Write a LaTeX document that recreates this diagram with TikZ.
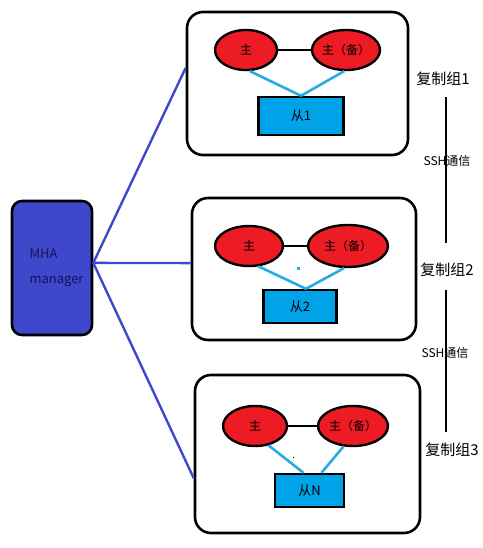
\documentclass[tikz,border=0pt]{standalone}
\usepackage{fontspec}
\setmainfont{Noto Sans CJK SC}
\usepackage{tikz}
\usetikzlibrary{shapes.geometric, arrows.meta, positioning, calc}
\definecolor{mhablue}{RGB}{63, 72, 204}
\definecolor{dbred}{RGB}{237, 28, 36}
\definecolor{slaveblue}{RGB}{0, 162, 232}
\definecolor{linkcyan}{RGB}{40, 170, 228}
\definecolor{mhatext}{RGB}{20, 20, 80}

\begin{document}
\begin{tikzpicture}[x=1pt, y=-1pt,
    group/.style={rectangle, draw, line width=2.6pt, rounded corners=16pt, inner sep=0pt},
    master/.style={ellipse, draw, line width=2.4pt, fill=dbred, inner sep=0pt, font=\fontsize{12}{12}\selectfont},
    slave/.style={rectangle, draw, line width=2.4pt, fill=slaveblue, inner sep=0pt, font=\fontsize{13}{13}\selectfont},
    mgr/.style={line width=2.4pt, mhablue},
    sync/.style={line width=2.6pt},
    repl/.style={line width=2.6pt, linkcyan},
    grplabel/.style={inner sep=0pt, font=\fontsize{15}{15}\selectfont},
    sshlabel/.style={inner sep=0pt, font=\fontsize{12}{12}\selectfont}]
    \useasboundingbox (0,0) rectangle (482,548);

    % MHA manager
    \node[rectangle, draw, line width=2.6pt, rounded corners=10pt, fill=mhablue,
          minimum width=80pt, minimum height=134pt, inner sep=0pt] (mha) at (52, 268) {};
    \node[anchor=west, align=left, text=mhatext, font=\fontsize{13}{25}\selectfont] (mhatxt) at (26, 268) {MHA\\manager};

    % Replication groups
    \node[group, minimum width=221pt, minimum height=143pt] (grp1) at (297.5, 83.5) {};
    \node[group, minimum width=224pt, minimum height=142pt] (grp2) at (304, 269) {};
    \node[group, minimum width=225pt, minimum height=158pt] (grp3) at (307.5, 454) {};

    % Group 1
    \node[master, minimum width=62pt, minimum height=40pt] (m1) at (246, 50) {主};
    \node[master, minimum width=68pt, minimum height=40pt] (b1) at (346, 50) {主（备）};
    \node[slave, minimum width=85pt, minimum height=38pt] (s1) at (301, 116) {从1};

    % Group 2
    \node[master, minimum width=68pt, minimum height=40pt] (m2) at (249, 246) {主};
    \node[master, minimum width=80pt, minimum height=42pt] (b2) at (348, 246) {主（备）};
    \node[slave, minimum width=73pt, minimum height=33pt] (s2) at (300, 306.5) {从2};

    % Group 3
    \node[master, minimum width=64pt, minimum height=40pt] (m3) at (255, 426) {主};
    \node[master, minimum width=70pt, minimum height=40pt] (b3) at (353, 426) {主（备）};
    \node[slave, minimum width=69pt, minimum height=33pt] (s3) at (309.5, 490.5) {从N};

    % Master links
    \draw[sync] (m1.east) -- (b1.west);
    \draw[sync] (m2.east) -- (b2.west);
    \draw[sync] (m3.east) -- (b3.west);

    % Replication links
    \draw[repl] (m1.-80) -- (s1.north);
    \draw[repl] (b1.-95) -- (s1.north);
    \draw[repl] (m2.-65) -- ([xshift=6pt]s2.north);
    \draw[repl] (b2.-100) -- ([xshift=6pt]s2.north);
    \draw[repl] (m3.-55) -- ([xshift=-6pt]s3.north);
    \draw[repl] (b3.-115) -- ([xshift=12pt]s3.north);
    \fill[linkcyan] (297, 267) rectangle (299.5, 269.5);
    \fill[black] (292.5, 456.5) rectangle (293.5, 457.5);

    % Manager links
    \draw[mgr] (mha.7) -- (grp1.172);
    \draw[mgr] (mha.7) -- (grp2.177);
    \draw[mgr] (mha.7) -- (grp3.192);

    % Group labels and SSH
    \node[grplabel] (lab1) at (443, 79) {复制组1};
    \node[grplabel] (lab2) at (447, 270) {复制组2};
    \node[grplabel] (lab3) at (452, 450) {复制组3};
    \coordinate (ssh1a) at (446, 97);
    \coordinate (ssh1b) at (446, 243);
    \coordinate (ssh2a) at (446, 290);
    \coordinate (ssh2b) at (446, 432);
    \draw[sync] (ssh1a) -- (ssh1b);
    \draw[sync] (ssh2a) -- (ssh2b);
    \node[sshlabel] (ssh1) at (447, 161) {SSH通信};
    \node[sshlabel] (ssh2) at (445, 353) {SSH通信};
\end{tikzpicture}
\end{document}
